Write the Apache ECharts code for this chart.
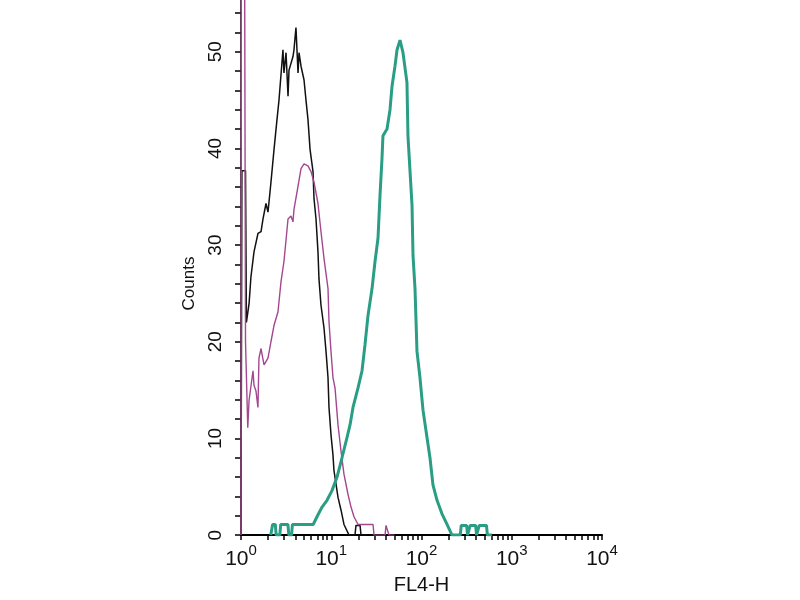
<!DOCTYPE html>
<html>
<head>
<meta charset="utf-8">
<script src="https://cdn.jsdelivr.net/npm/echarts@6/dist/echarts.min.js"></script>
<style>
  html, body { margin: 0; padding: 0; background: #fff; }
  #chart { width: 800px; height: 600px; }
</style>
</head>
<body>
<div id="chart"></div>
<script>
// x positions are log10(FL4-H), y values are counts
var blackX = [0.00, 0.01, 0.05, 0.06, 0.09, 0.11, 0.144, 0.188, 0.222, 0.244, 0.277, 0.299, 0.332, 0.366, 0.399, 0.421, 0.465, 0.476, 0.499, 0.521, 0.532, 0.576, 0.587, 0.609, 0.632, 0.643, 0.665, 0.698, 0.720, 0.742, 0.765, 0.798, 0.809, 0.831, 0.853, 0.864, 0.886, 0.920, 0.942, 0.964, 0.975, 0.997, 1.019, 1.030, 1.075, 1.108, 1.141, 1.197, 1.263, 1.274, 1.319, 1.330, 1.40];
var blackY = [0, 37.7, 37.7, 22, 24, 26.7, 29.3, 31.2, 31.4, 32.7, 34.3, 33.4, 36.5, 39.9, 43, 45, 50.2, 47.8, 49.9, 45.4, 48.1, 49.5, 50.2, 52.5, 47.8, 49.9, 48.5, 47.1, 45, 43, 39.9, 37.6, 34.8, 32.7, 29.3, 26.5, 23.8, 21.4, 19, 16.3, 13.2, 10.4, 8.3, 6.7, 3.9, 2.6, 1.1, 0, 0, 1, 1, 0, 0];

var magentaX = [0.00, 0.005, 0.035, 0.05, 0.075, 0.089, 0.133, 0.144, 0.166, 0.188, 0.199, 0.222, 0.255, 0.299, 0.332, 0.366, 0.410, 0.443, 0.476, 0.521, 0.554, 0.576, 0.587, 0.632, 0.665, 0.698, 0.742, 0.776, 0.809, 0.853, 0.886, 0.920, 0.964, 0.975, 0.997, 1.019, 1.042, 1.075, 1.108, 1.141, 1.186, 1.219, 1.252, 1.297, 1.463, 1.474, 1.596, 1.607, 1.629, 1.640, 1.70];
var magentaY = [0, 80, 80, 20, 11.1, 13.9, 17, 15.5, 14.9, 13.2, 18.3, 19.3, 17.6, 18.3, 20, 21.7, 23.1, 26.2, 28.3, 32.7, 33, 32.4, 33.7, 36.1, 37.9, 38.4, 38.2, 37.6, 36.5, 34.3, 31.4, 28.6, 25.5, 22.1, 19, 16.3, 15.2, 11.4, 8.7, 6.3, 4.2, 2.9, 1.9, 1.1, 1.1, 0, 0, 1, 1, 0, 0];

var tealX = [0.33, 0.35, 0.38, 0.39, 0.43, 0.44, 0.52, 0.53, 0.56, 0.57, 0.80, 0.842, 0.898, 0.953, 1.008, 1.064, 1.119, 1.175, 1.208, 1.241, 1.296, 1.341, 1.374, 1.407, 1.452, 1.485, 1.518, 1.540, 1.562, 1.573, 1.618, 1.651, 1.673, 1.706, 1.729, 1.762, 1.795, 1.839, 1.850, 1.895, 1.906, 1.928, 1.950, 1.983, 2.017, 2.061, 2.094, 2.127, 2.172, 2.227, 2.283, 2.338, 2.43, 2.44, 2.50, 2.51, 2.53, 2.54, 2.60, 2.61, 2.63, 2.64, 2.72, 2.73, 2.78];
var tealY = [0, 1.1, 1.1, 0, 0, 1.1, 1.1, 0, 0, 1.1, 1.1, 1.9, 2.9, 3.6, 4.6, 6, 8, 10.1, 11.4, 13.2, 15.2, 17, 19.7, 22.7, 25.5, 28.3, 30.7, 35.1, 38.9, 41.3, 42, 44, 46.4, 48.5, 50.2, 51.2, 49.9, 46.8, 41.3, 34.1, 28.9, 25.5, 19, 16.3, 12.9, 10.1, 8, 5.2, 3.6, 2.2, 1.1, 0, 0, 1, 1, 0, 0, 1, 1, 0, 0, 1, 1, 0, 0];

var xTickValues = [1, 2, 3, 4, 5, 6, 7, 8, 9, 10, 20, 30, 40, 50, 60, 70, 80, 90, 100, 200, 300, 400, 500, 600, 700, 800, 900, 1000, 2000, 3000, 4000, 5000, 6000, 7000, 8000, 9000, 10000];
var xLabelExps = [0, 1, 2, 3, 4];
var yTickValues = [0, 2, 4, 6, 8, 10, 12, 14, 16, 18, 20, 22, 24, 26, 28, 30, 32, 34, 36, 38, 40, 42, 44, 46, 48, 50, 52, 54];
var yLabelValues = [0, 10, 20, 30, 40, 50];

function pairs(xs, ys) {
    return xs.map(function (x, i) { return [x, ys[i]]; });
}

var font = 'Liberation Sans, Arial, sans-serif';
var myChart = echarts.init(document.getElementById('chart'));
myChart.setOption({
    animation: false,
    backgroundColor: '#fff',
    grid: { left: 241, right: 198, top: 0, bottom: 62 },
    xAxis: {
        type: 'value',
        min: 0,
        max: 4,
        name: 'FL4-H',
        nameLocation: 'middle',
        nameGap: 35,
        nameTextStyle: { color: '#111', fontSize: 20, fontFamily: font },
        splitLine: { show: false },
        axisLine: { show: true, lineStyle: { color: '#000', width: 2 } },
        axisTick: {
            show: true, length: 5, lineStyle: { color: '#000', width: 1.5 },
            customValues: xTickValues.map(function (v) { return Math.log10(v); })
        },
        axisLabel: {
            customValues: xLabelExps,
            margin: 6,
            color: '#111',
            fontFamily: font,
            formatter: function (v) { return '{b|10}{s|' + Math.round(v) + '}'; },
            rich: {
                b: { fontSize: 21, fontFamily: font, color: '#111', padding: [8, 0, 0, 0] },
                s: { fontSize: 15, fontFamily: font, color: '#111', padding: [0, 0, 10, 0] }
            }
        }
    },
    yAxis: {
        type: 'value',
        min: 0,
        max: 55.35,
        name: 'Counts',
        nameLocation: 'middle',
        nameGap: 43,
        nameRotate: 90,
        nameTextStyle: { color: '#111', fontSize: 17, fontFamily: font, padding: [0, 32, 0, 0] },
        splitLine: { show: false },
        axisLine: { show: true, lineStyle: { color: '#000', width: 1.5 } },
        axisTick: { show: true, length: 6, lineStyle: { color: '#000', width: 1.5 }, customValues: yTickValues },
        axisLabel: {
            customValues: yLabelValues,
            rotate: 90,
            margin: 16,
            color: '#111',
            fontSize: 19,
            fontFamily: font
        }
    },
    series: [
        {
            name: 'black', type: 'line', showSymbol: false,
            lineStyle: { color: '#111', width: 1.5 },
            data: pairs(blackX, blackY)
        },
        {
            name: 'magenta', type: 'line', showSymbol: false,
            lineStyle: { color: '#a3478f', width: 1.4 },
            data: pairs(magentaX, magentaY)
        },
        {
            name: 'teal', type: 'line', showSymbol: false,
            lineStyle: { color: '#2a9d85', width: 3 },
            data: pairs(tealX, tealY)
        }
    ]
});
</script>
</body>
</html>
